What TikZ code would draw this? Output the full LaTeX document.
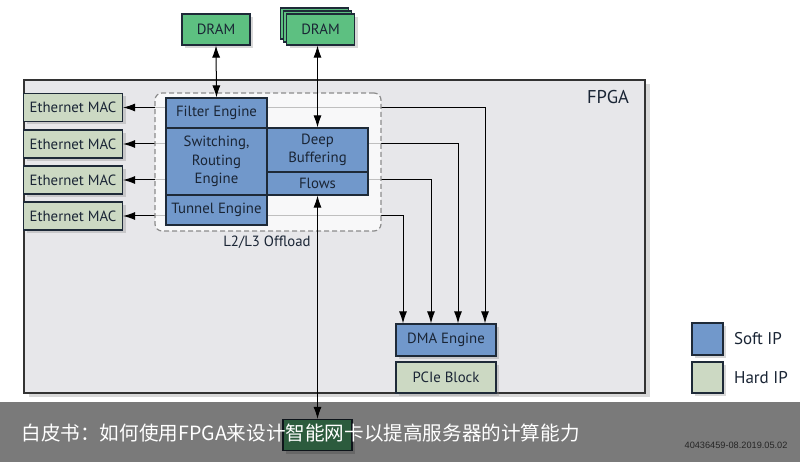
\documentclass[tikz,border=0pt]{standalone}
\usepackage{fontspec}
\setmainfont{PT Sans}
\newfontfamily\cjk{Noto Sans CJK SC}
\newfontfamily\idfont{Liberation Sans}
\usetikzlibrary{arrows.meta, positioning, shadows}
\definecolor{csoft}{HTML}{7198CB}
\definecolor{chard}{HTML}{CCD9C3}
\definecolor{cdram}{HTML}{5DC081}
\definecolor{cfpga}{HTML}{E7E7EA}
\definecolor{cedge}{HTML}{1E2A38}
\definecolor{ctext}{HTML}{1A2535}

\begin{document}
\begin{tikzpicture}[
    x=1pt, y=-1pt,
    font=\fontsize{14.8}{18.5}\selectfont,
    block/.style={
        rectangle, draw=cedge, line width=1.1pt, inner sep=0pt,
        text=ctext, align=center
    },
    soft/.style={block, fill=csoft, minimum width=101pt},
    hard/.style={
        block, fill=chard, minimum height=28pt,
        drop shadow={opacity=.3, shadow xshift=3pt, shadow yshift=-3pt}
    },
    mem/.style={
        block, fill=cdram, minimum width=68pt, minimum height=31pt,
        drop shadow={opacity=.3, shadow xshift=3pt, shadow yshift=-3pt}
    },
    link/.style={
        {Latex[length=12pt,width=8pt]}-{Latex[length=12pt,width=8pt]},
        draw=black, line width=1pt
    }
]
\useasboundingbox (0,0) rectangle (800,462);
\fill[white] (0,0) rectangle (800,462);

% FPGA die
\node[block, draw=black!80, fill=cfpga, minimum width=621pt, minimum height=313pt,
      drop shadow={opacity=.3, shadow xshift=5pt, shadow yshift=-4pt}]
      (fpga) at (334.5,236.5) {};
\node[font=\fontsize{18.5}{20}\selectfont, text=ctext] (fpgalbl) at (608,97) {FPGA};

% hard IP
\foreach \i/\y in {1/107.5, 2/144, 3/180, 4/216}{
  \node[hard, minimum width=99pt] (mac\i) at (73,\y) {Ethernet MAC};
}
\node[soft, minimum width=100pt, minimum height=32pt,
      drop shadow={opacity=.3, shadow xshift=3pt, shadow yshift=-3pt}]
      (dma) at (446,340) {DMA Engine};
\node[hard, minimum width=100pt, minimum height=31pt] (pcie) at (446,377.5) {PCIe Block};

% memories
\node[mem] (dram1) at (216,29.5) {DRAM};
\node[mem] (dram2c) at (314.5,23.5) {};
\node[mem] (dram2b) at (317.5,26.5) {};
\node[mem] (dram2) at (320.5,29.5) {DRAM};

% MAC <-> DMA paths
\foreach \m/\dx in {mac1/39, mac2/12, mac3/-15, mac4/-43}
  \draw[link] (\m.east) -| ([xshift=\dx pt]dma.north);

% L2/L3 offload region
\node[rectangle, rounded corners=7pt, draw=black!45, dashed,
      dash pattern=on 5pt off 3pt, line width=1.2pt,
      fill=white, fill opacity=.75,
      minimum width=226pt, minimum height=138pt] (offload) at (268,162) {};
\node[text=ctext] (offlbl) at (267,242) {L2/L3 Offload};

% soft IP blocks
\node[soft, minimum height=30pt] (filter) at (216.5,113) {Filter Engine};
\node[soft, minimum height=67pt] (switch) at (216.5,161.5) {Switching,\\Routing\\Engine};
\node[soft, minimum height=30pt] (tunnel) at (216.5,210) {Tunnel Engine};
\node[soft, minimum height=44pt] (deep) at (317.5,150) {Deep\\Buffering};
\node[soft, minimum height=23pt] (flows) at (317.5,183.5) {Flows};

\draw[link] (dram1.south) -- (filter.north);
\draw[link] (deep.north |- dram2.south) -- (deep.north);

% host side
\node[mem, minimum width=69pt, minimum height=31pt] (host) at (317.5,435) {};
\draw[link] (flows.south) -- (host.north);

% legend
\node[soft, minimum width=31pt, minimum height=32pt,
      drop shadow={opacity=.3, shadow xshift=3pt, shadow yshift=-3pt}]
      (keysoft) at (707.5,339) {};
\node[hard, minimum width=31pt, minimum height=31pt] (keyhard) at (707.5,377.5) {};
\node[right=7pt of keysoft, font=\fontsize{17}{19}\selectfont, text=ctext] (softlbl) {Soft IP};
\node[right=7pt of keyhard, font=\fontsize{17}{19}\selectfont, text=ctext] (hardlbl) {Hard IP};

% caption band
\fill[black, opacity=.52] (0,402) rectangle (800,462);
\node[anchor=west, text=white, font=\cjk\fontsize{19.6}{22}\selectfont] (caption) at (18,433)
  {白皮书：如何使用FPGA来设计智能网卡以提高服务器的计算能力};
\node[anchor=east, text=black!85, font=\idfont\fontsize{9.2}{10}\selectfont] (stamp) at (791,445)
  {40436459-08.2019.05.02};
\end{tikzpicture}
\end{document}
